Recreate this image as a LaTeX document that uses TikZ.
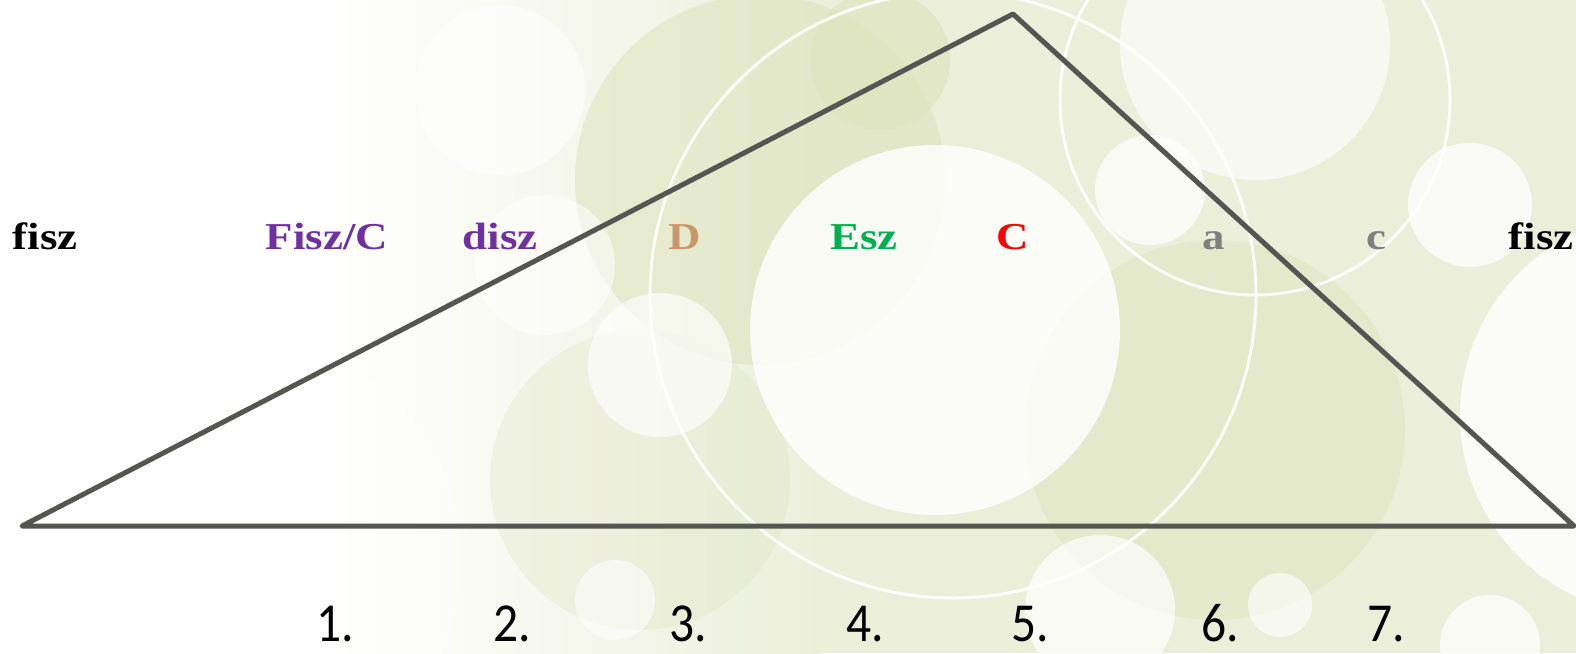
\documentclass[tikz,border=0pt]{standalone}
\usepackage{fontspec}
\setmainfont{Liberation Serif}
\newfontfamily\numfont{Carlito}
\usetikzlibrary{calc}
\definecolor{bggreen}{HTML}{EBEFDA}
\definecolor{bgdark}{HTML}{DDE2BC}
\definecolor{tri}{HTML}{555652}
\definecolor{lblpurple}{HTML}{7030A0}
\definecolor{lbltan}{HTML}{C9976B}
\definecolor{lblgreen}{HTML}{00B050}
\definecolor{lblred}{HTML}{FF0000}
\definecolor{lblgray}{HTML}{7F7F7F}
\tikzset{
  lbl/.style={anchor=base, inner sep=0pt, font=\fontsize{38}{38}\selectfont\bfseries},
  num/.style={anchor=base, inner sep=0pt, font=\fontsize{55}{55}\selectfont\numfont},
  blob/.style={fill=white, opacity=#1},
  dark/.style={fill=bgdark, opacity=#1},
  ring/.style={draw=white, line width=3pt, opacity=0.85},
  triline/.style={draw=tri, line width=5pt, line join=round, line cap=round}
}
\newcommand{\wide}[1]{\scalebox{1.18}[1]{#1}}
\newcommand{\narrow}[1]{\scalebox{0.9}[1]{#1}}
\begin{document}
\begin{tikzpicture}[x=1pt,y=-1pt]
\useasboundingbox (0,0) rectangle (1576,653);
% background
\begin{scope}
\clip (0,0) rectangle (1576,653);
\fill[white] (0,0) rectangle (1576,653);
\shade[left color=white, right color=bggreen] (330,0) rectangle (820,653);
\fill[bggreen] (820,0) rectangle (1576,653);
\fill[dark=0.55] (760,180) circle (185);
\fill[dark=0.6] (880,60) circle (70);
\fill[dark=0.45] (1215,430) circle (190);
\fill[dark=0.3] (640,480) circle (150);
\fill[blob=0.55] (500,90) circle (85);
\fill[blob=0.5] (545,265) circle (70);
\fill[blob=0.8] (935,330) circle (185);
\fill[blob=0.65] (660,365) circle (72);
\fill[blob=0.7] (1150,190) circle (55);
\fill[blob=0.6] (1255,45) circle (135);
\fill[blob=0.75] (1470,205) circle (62);
\fill[blob=0.8] (1660,415) circle (200);
\fill[blob=0.7] (1100,610) circle (75);
\fill[blob=0.6] (1280,605) circle (32);
\fill[blob=0.7] (1490,645) circle (50);
\fill[blob=0.55] (615,600) circle (40);
\fill[blob=0.35] (230,560) circle (230);
\draw[ring] (953,295) circle (303);
\draw[ring] (1255,100) circle (195);
\end{scope}
% triangle
\coordinate (L) at (22,526);
\coordinate (T) at (1013,14);
\coordinate (R) at (1574,526);
\draw[triline] (L) -- (T) -- (R) -- cycle;
% labels
\node[lbl] (l1) at (45,249) {\wide{fisz}};
\node[lbl, text=lblpurple] (l2) at (327,249) {\wide{Fisz/C}};
\node[lbl, text=lblpurple] (l3) at (500,249) {\wide{disz}};
\node[lbl, text=lbltan] (l4) at (685,249) {\wide{D}};
\node[lbl, text=lblgreen] (l5) at (864,249) {\wide{Esz}};
\node[lbl, text=lblred] (l6) at (1013,249) {\wide{C}};
\node[lbl, text=lblgray] (l7) at (1214,249) {\wide{a}};
\node[lbl, text=lblgray] (l8) at (1376,249) {\wide{c}};
\node[lbl] (l9) at (1541,249) {\wide{fisz}};
% numbers
\node[num] (n1) at (335,641) {\narrow{1.}};
\node[num] (n2) at (512,641) {\narrow{2.}};
\node[num] (n3) at (688,641) {\narrow{3.}};
\node[num] (n4) at (865,641) {\narrow{4.}};
\node[num] (n5) at (1030,641) {\narrow{5.}};
\node[num] (n6) at (1220,641) {\narrow{6.}};
\node[num] (n7) at (1386,641) {\narrow{7.}};
\end{tikzpicture}
\end{document}
